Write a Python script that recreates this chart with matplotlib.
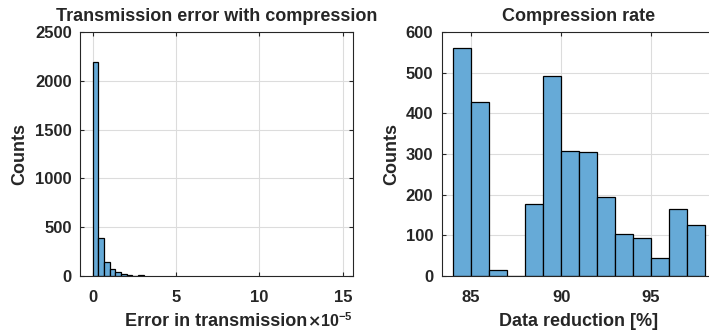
import matplotlib
matplotlib.use("Agg")
import matplotlib.pyplot as plt
import numpy as np

plt.rcParams['font.family'] = ['Liberation Sans', 'DejaVu Sans']
plt.rcParams['font.weight'] = 'bold'

# Left histogram: transmission error (x1e-5)
err_edges = [0.0, 0.34, 0.68, 1.02, 1.36, 1.70, 2.04, 2.38, 2.72, 3.06]
err_counts = [2190, 388, 140, 72, 36, 25, 10, 2, 12]
err_xticks = [0, 5, 10, 15]
err_yticks = [0, 500, 1000, 1500, 2000, 2500]

# Right histogram: compression rate
red_edges = [84, 85, 86, 87, 88, 89, 90, 91, 92, 93, 94, 95, 96, 97, 98]
red_counts = [560, 428, 14, 0, 178, 492, 308, 305, 194, 103, 93, 44, 164, 125]
red_xticks = [85, 90, 95]
red_yticks = [0, 100, 200, 300, 400, 500, 600]

bar_color = '#66AAD7'
txt = '#262626'

W, H = 709, 331
fig = plt.figure(figsize=(W/100, H/100), dpi=100)
ax1 = fig.add_axes([80/W, 55/H, 273/W, 244/H])
ax2 = fig.add_axes([441.7/W, 55/H, 273.3/W, 244/H])

def style(ax):
    ax.grid(True, color='#dcdcdc', linewidth=0.8)
    ax.set_axisbelow(True)
    for s in ax.spines.values():
        s.set_color(txt)
        s.set_linewidth(0.8)
    ax.tick_params(direction='in', length=3, colors=txt, labelsize=12,
                   top=True, right=True)
    ax.tick_params(axis='x', pad=10)
    ax.tick_params(axis='y', pad=6)
    for lab in ax.get_xticklabels() + ax.get_yticklabels():
        lab.set_fontweight('bold')

e = np.array(err_edges)
ax1.bar(e[:-1], err_counts, width=np.diff(e), align='edge', color=bar_color,
        edgecolor='black', linewidth=0.9)
ax1.set_xlim(-0.75, 15.6)
ax1.set_ylim(0, 2500)
ax1.set_xticks(err_xticks)
ax1.set_yticks(err_yticks)
style(ax1)
ax1.set_title('Transmission error with compression', fontsize=13, fontweight='bold', color=txt, pad=8)
ax1.set_xlabel('Error in transmission', fontsize=13, fontweight='bold', color=txt, labelpad=6)
ax1.set_ylabel('Counts', fontsize=13, fontweight='bold', color=txt, labelpad=4.5)
ax1.text(1.0, -0.21, r'$\times\mathregular{10^{-5}}$', transform=ax1.transAxes,
         ha='right', va='baseline', fontsize=11.5, color=txt)

r = np.array(red_edges)
ax2.bar(r[:-1], red_counts, width=np.diff(r), align='edge', color=bar_color,
        edgecolor='black', linewidth=0.9)
ax2.set_xlim(83.37, 98.55)
ax2.set_ylim(0, 600)
ax2.set_xticks(red_xticks)
ax2.set_yticks(red_yticks)
style(ax2)
ax2.set_title('Compression rate', fontsize=13, fontweight='bold', color=txt, pad=8)
ax2.set_xlabel('Data reduction [%]', fontsize=13, fontweight='bold', color=txt, labelpad=6)
ax2.set_ylabel('Counts', fontsize=13, fontweight='bold', color=txt, labelpad=4)

fig.savefig('out.png', dpi=100)
